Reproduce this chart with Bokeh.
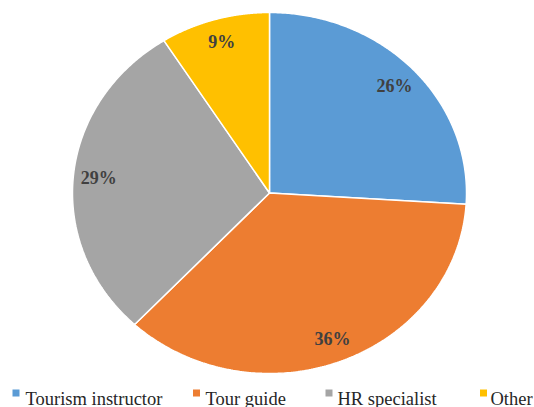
import numpy as np
from bokeh.plotting import figure
from bokeh.models import Range1d
from bokeh.core.properties import value
from bokeh.embed import file_html
from bokeh.resources import INLINE

# Share of respondents by intended profession
categories = ["Tourism instructor", "Tour guide", "HR specialist", "Other"]
shares = [26, 36, 29, 9]
colors = ["#5B9BD5", "#ED7D31", "#A5A5A5", "#FFC000"]
labels = [f"{s}%" for s in shares]

SERIF = "Liberation Serif"

W, H = 534, 407
# pie centre / radii in pixels (slightly wider than tall)
cx, cy, rx, ry = 269.0, 192.5, 197.0, 180.5

def to_x(px):
    return (px - cx) / rx

def to_y(py):
    return (cy - py) / ry

p = figure(width=W, height=H, output_backend="svg", toolbar_location=None,
           x_axis_type=None, y_axis_type=None,
           x_range=Range1d(to_x(0), to_x(W)),
           y_range=Range1d(to_y(H), to_y(0)),
           min_border=0)
p.grid.visible = False
p.outline_line_color = None

# slices run clockwise from 12 o'clock
fr = np.array(shares, dtype=float) / sum(shares)
ends = np.cumsum(fr)
starts = ends - fr
xs, ys = [], []
for a0, a1 in zip(starts, ends):
    t = np.pi / 2 - 2 * np.pi * np.linspace(a0, a1, 200)
    xs.append(np.concatenate([[0.0], np.cos(t), [0.0]]).tolist())
    ys.append(np.concatenate([[0.0], np.sin(t), [0.0]]).tolist())

p.patches(xs=xs, ys=ys, fill_color=colors, line_color="white", line_width=1.5)

# percentage labels along each slice's mid angle
mid = np.pi / 2 - 2 * np.pi * (starts + ends) / 2
lr = 0.87
p.text(x=(lr * np.cos(mid)).tolist(), y=(lr * np.sin(mid)).tolist(), text=labels,
       text_font=value(SERIF), text_font_style="bold",
       text_font_size="18px", text_color="#404040",
       text_align="center", text_baseline="middle")

# legend row along the bottom: small square key + label per slice
key_px = [15.5, 196.0, 328.5, 483.0]
text_px = [25, 205, 337, 490]
p.scatter(x=[to_x(v) for v in key_px], y=[to_y(392.5)] * 4, marker="square",
          size=7, fill_color=colors, line_color=None)
p.text(x=[to_x(v) for v in text_px], y=[to_y(398)] * 4, text=categories,
       text_font=value(SERIF), text_font_size="18.5px", text_color="#262626",
       text_align="left", text_baseline="alphabetic")

open("out.html", "w").write(file_html(p, INLINE))
